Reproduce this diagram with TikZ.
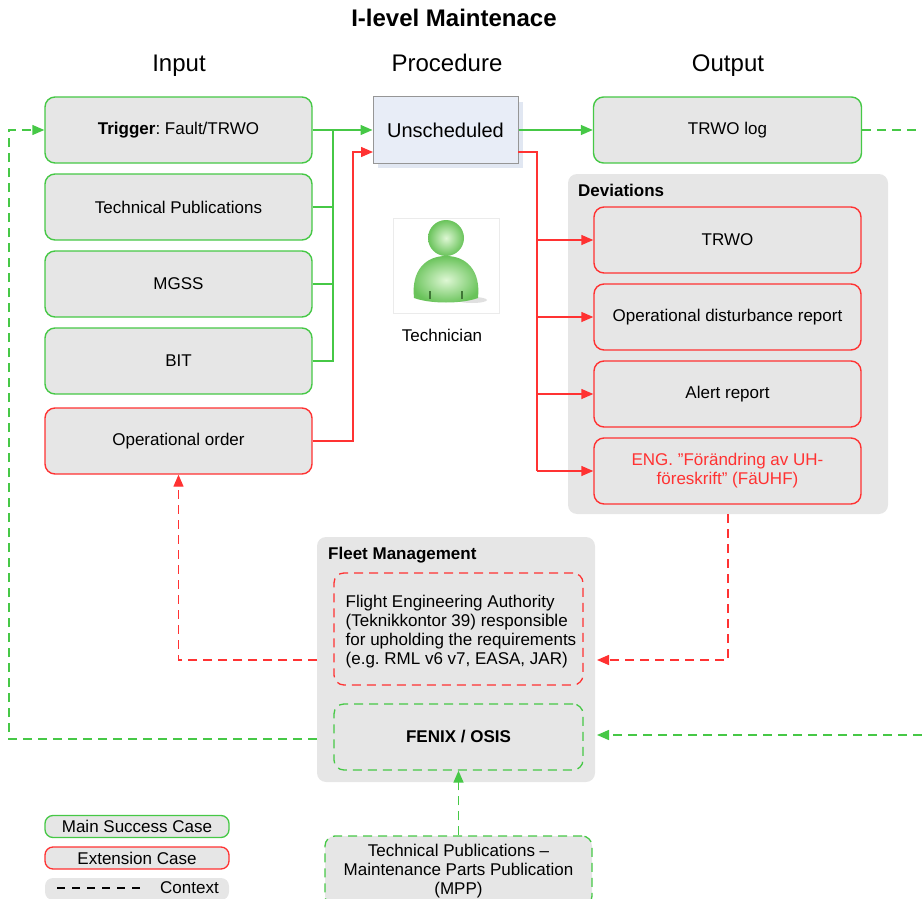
\documentclass[tikz,border=0pt]{standalone}
\usepackage{fontspec}
\setmainfont{Liberation Sans}
\usetikzlibrary{arrows.meta,shadows}
\frenchspacing
\definecolor{gline}{RGB}{70,200,70}
\definecolor{rline}{RGB}{255,50,50}
\definecolor{boxfill}{RGB}{230,230,230}
\definecolor{unfill}{RGB}{232,237,247}
\definecolor{unshadow}{RGB}{225,231,242}
\definecolor{unborder}{RGB}{150,150,150}
\definecolor{iconlight}{RGB}{222,247,212}
\definecolor{icondark}{RGB}{105,195,90}
\tikzset{
  txt/.style={font=\fontsize{17pt}{19pt}\selectfont},
  basebox/.style={txt, rounded corners=10pt, fill=boxfill, line width=1.4pt, minimum height=66pt, align=center, inner sep=2pt},
  gbox/.style={basebox, draw=gline},
  rbox/.style={basebox, draw=rline},
  container/.style={fill=boxfill, rounded corners=9pt},
  gln/.style={draw=gline, line width=1.4pt},
  rln/.style={draw=rline, line width=1.4pt},
  gdash/.style={gln, dash pattern=on 9pt off 6pt},
  rdash/.style={rln, dash pattern=on 9pt off 6pt},
  tip/.style={-{Triangle[length=12pt,width=10pt]}},
  hdr/.style={font=\fontsize{24pt}{26pt}\selectfont, anchor=base},
  legbox/.style={txt, rounded corners=8pt, fill=boxfill, line width=1.3pt, minimum width=184pt, minimum height=22pt, inner sep=0pt},
}
\begin{document}
\begin{tikzpicture}[x=1pt,y=-1pt]
\clip (0,0) rectangle (922,899);
% titles
\node[font=\bfseries\fontsize{24pt}{26pt}\selectfont] (title) at (454,18) {I-level Maintenace};
\node[hdr] (hin) at (179,72) {Input};
\node[hdr] (hproc) at (447,72) {Procedure};
\node[hdr] (hout) at (728,72) {Output};
% containers
\node[container, minimum width=320pt, minimum height=340pt] (devc) at (728,344) {};
\node[txt, font=\bfseries\fontsize{17pt}{19pt}\selectfont, anchor=north west, inner sep=0pt] (devlbl) at (578,184) {Deviations};
\node[container, minimum width=278pt, minimum height=245pt] (fleet) at (456,659.5) {};
\node[txt, font=\bfseries\fontsize{17pt}{19pt}\selectfont, anchor=north west, inner sep=0pt] (fleetlbl) at (328,547) {Fleet Management};
% input boxes
\node[gbox, minimum width=267pt] (trig) at (178.5,130) {\textbf{Trigger}: Fault/TRWO};
\node[gbox, minimum width=267pt] (tp) at (178.5,207) {Technical Publications};
\node[gbox, minimum width=267pt] (mgss) at (178.5,284) {MGSS};
\node[gbox, minimum width=267pt] (bit) at (178.5,361) {BIT};
\node[rbox, minimum width=267pt] (oo) at (178.5,441) {Operational order};
% procedure
\node[txt, font=\fontsize{20pt}{22pt}\selectfont, draw=unborder, fill=unfill, line width=1pt, minimum width=145pt, minimum height=66pt,
  drop shadow={shadow xshift=5pt, shadow yshift=-5pt, fill=unshadow, opacity=1}] (unsch) at (445.5,130) {Unscheduled};
% output
\node[gbox, minimum width=268pt] (log) at (727.5,130) {TRWO log};
\node[rbox, minimum width=267pt] (trwo) at (727.5,240) {TRWO};
\node[rbox, minimum width=267pt] (odr) at (727.5,317) {Operational disturbance report};
\node[rbox, minimum width=267pt] (alert) at (727.5,394) {Alert report};
\node[rbox, minimum width=267pt, text=rline] (eng) at (727.5,471) {ENG. ”Förändring av UH-\\föreskrift” (FäUHF)};
% technician icon
\node[draw=black!8, fill=white, line width=0.8pt, minimum width=106pt, minimum height=95pt, inner sep=0pt] (icon) at (446,265.5) {};
\fill[black!12] (472,300) ellipse (15 and 3);
\shade[inner color=iconlight, outer color=icondark] (414,298) .. controls (411,270) and (426,256) .. (446,256) .. controls (466,256) and (481,270) .. (478,298) .. controls (462,304) and (430,304) .. (414,298) -- cycle;
\shade[inner color=iconlight, outer color=icondark] (446,238) circle (18);
\fill[icondark!60!black] (429,291) rectangle (431,299);
\fill[icondark!60!black] (461,291) rectangle (463,299);
\node[txt] (tech) at (442,335) {Technician};
% fleet boxes
\node[rounded corners=10pt, fill=boxfill, draw=rline, line width=1.3pt, dash pattern=on 9pt off 6pt, minimum width=249pt, minimum height=112pt] (fea) at (458.5,629) {};
\node[txt, align=left, inner sep=0pt] (featxt) at (461,632)
  {Flight Engineering Authority\\(Teknikkontor 39) responsible\\for upholding the requirements\\(e.g. RML v6 v7, EASA, JAR)};
\node[txt, rounded corners=10pt, fill=boxfill, draw=gline, line width=1.3pt, dash pattern=on 9pt off 6pt, minimum width=249pt, minimum height=66pt, font=\bfseries\fontsize{17pt}{19pt}\selectfont] (fenix) at (458.5,737) {FENIX / OSIS};
\node[txt, rounded corners=10pt, fill=boxfill, draw=gline, line width=1.3pt, dash pattern=on 9pt off 6pt, minimum width=267pt, minimum height=70pt, align=center] (mpp) at (458.5,871)
  {Technical Publications –\\Maintenance Parts Publication\\(MPP)};
% legend
\node[legbox, draw=gline] (lg1) at (137,826.5) {Main Success Case};
\node[legbox, draw=rline] (lg2) at (137,858) {Extension Case};
\node[legbox] (lg3) at (137,889) {};
\coordinate (ld1) at (57,888);
\coordinate (ld2) at (145,888);
\draw[black, line width=1.2pt, dash pattern=on 8pt off 7pt] (ld1) -- (ld2);
\node[txt, anchor=west, inner sep=0pt] (lgt) at (160,888) {Context};
% green input connectors
\coordinate (gbus) at (333,130);
\draw[gln] (tp.east) -| (gbus);
\draw[gln] (mgss.east) -| (gbus);
\draw[gln] (bit.east) -| (gbus);
\draw[gln, tip] (trig.east) -- (unsch.west);
% red input connector
\coordinate (rin) at (373,152);
\draw[rln, tip] (oo.east) -| (353,152) -- (rin);
% output connectors
\draw[gln, tip] (unsch.east) -- (log.west);
\coordinate (rout) at (518,152);
\coordinate (rb1) at (537,240);
\coordinate (rb2) at (537,317);
\coordinate (rb3) at (537,394);
\coordinate (rb4) at (537,471);
\draw[rln] (rout) -| (rb4);
\draw[rln, tip] (rb1) -- (trwo.west);
\draw[rln, tip] (rb2) -- (odr.west);
\draw[rln, tip] (rb3) -- (alert.west);
\draw[rln, tip] (rb4) -- (eng.west);
% context connectors
\coordinate (logout) at (922,130);
\draw[gdash] (log.east) -- (logout);
\coordinate (fenin) at (922,735);
\coordinate (fentip) at (597,735);
\draw[gdash, tip] (fenin) -- (fentip);
\coordinate (devout) at (728,514);
\coordinate (featip) at (597,660);
\draw[rdash, tip] (devout) |- (featip);
\coordinate (feaout) at (317,660);
\draw[rdash, tip] (feaout) -| (oo.south);
\coordinate (fenout) at (317,739);
\coordinate (lcorner) at (9,739);
\coordinate (ltop) at (9,130);
\draw[gdash, tip] (fenout) -- (lcorner) -- (ltop) -- (trig.west);
\draw[gdash, tip] (mpp.north) -- (fenix.south);
\end{tikzpicture}
\end{document}
